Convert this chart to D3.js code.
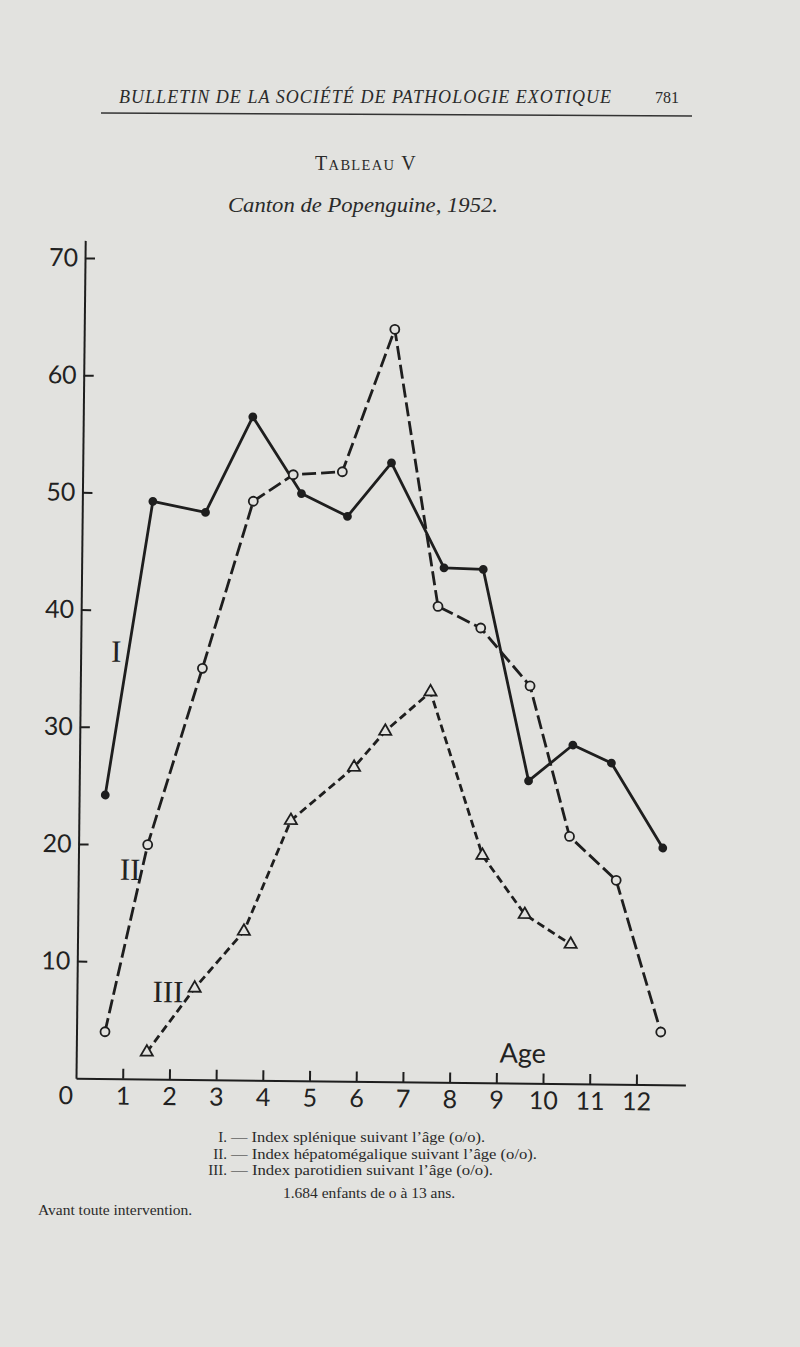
<!DOCTYPE html>
<html>
<head>
<meta charset="utf-8">
<style>
  body { margin: 0; background: #e2e2df; }
  svg { display: block; }
  .axis text { font-family: Lato, "Open Sans", sans-serif; font-size: 25px; fill: #222; }
  .axis path, .axis line { stroke: #1e1e1e; stroke-width: 2; }
</style>
</head>
<body>
<svg width="800" height="1347"></svg>
<script src="https://cdn.jsdelivr.net/npm/d3@7"></script>
<script>

// ages (years) and index values (%)
var ageTicks = [1, 2, 3, 4, 5, 6, 7, 8, 9, 10, 11, 12];
var valueTicks = [10, 20, 30, 40, 50, 60, 70];

// I. index splenique
var spleenAge   = [0.56, 1.51, 2.64, 3.63, 4.69, 5.68, 6.61, 7.76, 8.60, 9.62, 10.56, 11.39, 12.51];
var spleenIndex = [24.2, 49.3, 48.4, 56.6, 50.1, 48.2, 52.8, 43.9, 43.8, 25.8, 28.9, 27.4, 20.2];

// II. index hepatomegalique
var liverAge   = [0.61, 1.48, 2.61, 3.66, 4.51, 5.56, 6.65, 7.64, 8.56, 9.63, 10.51, 11.52, 12.51];
var liverIndex = [4.0, 20.0, 35.1, 49.4, 51.7, 52.0, 64.2, 40.6, 38.8, 33.9, 21.1, 17.4, 4.5];

// III. index parotidien
var parotidAge   = [1.51, 2.52, 3.56, 4.54, 5.88, 6.54, 7.50, 8.65, 9.57, 10.56];
var parotidIndex = [2.3, 7.8, 12.7, 22.2, 26.8, 29.9, 33.3, 19.4, 14.4, 11.9];

var legendNums = ["I.", "II.", "III."];
var legendText = [
  "— Index splénique suivant l’âge (o/o).",
  "— Index hépatomégalique suivant l’âge (o/o).",
  "— Index parotidien suivant l’âge (o/o)."
];
var legendWidths = [254, 306, 262];

var paper = "#e2e2df",
    ink = "#1e1e1e";

var svg = d3.select("svg");

svg.append("rect").attr("width", 800).attr("height", 1347).attr("fill", paper);

// page header
svg.append("text")
  .attr("x", 119).attr("y", 103)
  .attr("textLength", 492).attr("lengthAdjust", "spacing")
  .style("font-family", "'Liberation Serif', serif").style("font-style", "italic")
  .style("font-size", "18px").style("fill", "#2a2a2a")
  .text("BULLETIN DE LA SOCIÉTÉ DE PATHOLOGIE EXOTIQUE");

svg.append("text")
  .attr("x", 655).attr("y", 103)
  .style("font-family", "'Liberation Serif', serif").style("font-size", "16px").style("fill", "#2a2a2a")
  .text("781");

svg.append("line")
  .attr("x1", 101).attr("y1", 113).attr("x2", 692).attr("y2", 116)
  .attr("stroke", "#333").attr("stroke-width", 1.5);

var tab = svg.append("text")
  .attr("x", 366).attr("y", 170).attr("text-anchor", "middle")
  .style("font-family", "'Liberation Serif', serif").style("fill", "#2a2a2a")
  .style("letter-spacing", "1.3px");
tab.append("tspan").style("font-size", "20px").text("T");
tab.append("tspan").style("font-size", "14.5px").text("ABLEAU");
tab.append("tspan").style("font-size", "20px").text(" V");

svg.append("text")
  .attr("x", 228).attr("y", 212)
  .attr("textLength", 270).attr("lengthAdjust", "spacingAndGlyphs")
  .style("font-family", "'Liberation Serif', serif").style("font-style", "italic")
  .style("font-size", "22px").style("fill", "#2a2a2a")
  .text("Canton de Popenguine, 1952.");

// chart: the plate is scanned a little askew, so the frame is turned slightly
var x = d3.scaleLinear().domain([0, 13.05]).range([76, 76 + 13.05 * 46.7]);
var y = d3.scaleLinear().domain([0, 71.5]).range([1078.3, 1078.3 - 71.5 * 11.72]);

var chart = svg.append("g")
  .attr("transform", "rotate(0.63," + x(0) + "," + y(0) + ")");

chart.append("g")
  .attr("class", "axis")
  .attr("transform", "translate(0," + y(0) + ")")
  .call(d3.axisBottom(x).tickValues(ageTicks).tickSize(-10).tickSizeOuter(0).tickPadding(8));

chart.append("g")
  .attr("class", "axis")
  .attr("transform", "translate(" + x(0) + ",0)")
  .call(d3.axisLeft(y).tickValues(valueTicks).tickSize(-10).tickSizeOuter(0).tickPadding(7));

chart.selectAll(".axis text").attr("stroke", "none");

chart.append("text")
  .attr("x", x(0) - 10).attr("y", y(0) + 26)
  .attr("text-anchor", "middle")
  .style("font-family", "Lato, 'Open Sans', sans-serif").style("font-size", "25px").style("fill", "#222")
  .text("0");

chart.append("text")
  .attr("x", x(9.56)).attr("y", y(1.75))
  .attr("text-anchor", "middle")
  .style("font-family", "Lato, 'Open Sans', sans-serif").style("font-size", "27px").style("fill", "#222")
  .text("Age");

var line = d3.line()
  .x(function(d) { return x(d[0]); })
  .y(function(d) { return y(d[1]); });

var spleen = d3.zip(spleenAge, spleenIndex),
    liver = d3.zip(liverAge, liverIndex),
    parotid = d3.zip(parotidAge, parotidIndex);

chart.append("path").datum(spleen)
  .attr("d", line).attr("fill", "none")
  .attr("stroke", ink).attr("stroke-width", 2.8).attr("stroke-linejoin", "round");

chart.append("path").datum(liver)
  .attr("d", line).attr("fill", "none")
  .attr("stroke", ink).attr("stroke-width", 2.8)
  .attr("stroke-dasharray", "14,5");

chart.append("path").datum(parotid)
  .attr("d", line).attr("fill", "none")
  .attr("stroke", ink).attr("stroke-width", 2.8)
  .attr("stroke-dasharray", "8,4.5");

chart.selectAll(".dot-spleen")
  .data(spleen)
  .enter().append("circle")
  .attr("class", "dot-spleen")
  .attr("cx", function(d) { return x(d[0]); })
  .attr("cy", function(d) { return y(d[1]); })
  .attr("r", 4.4)
  .attr("fill", ink);

chart.selectAll(".dot-liver")
  .data(liver)
  .enter().append("circle")
  .attr("class", "dot-liver")
  .attr("cx", function(d) { return x(d[0]); })
  .attr("cy", function(d) { return y(d[1]); })
  .attr("r", 4.5)
  .attr("fill", paper).attr("stroke", ink).attr("stroke-width", 1.8);

var tri = d3.symbol().type(d3.symbolTriangle).size(64);

chart.selectAll(".dot-parotid")
  .data(parotid)
  .enter().append("path")
  .attr("class", "dot-parotid")
  .attr("d", tri)
  .attr("transform", function(d) { return "translate(" + x(d[0]) + "," + y(d[1]) + ")"; })
  .attr("fill", paper).attr("stroke", ink).attr("stroke-width", 1.8);

// roman numeral labels next to the curves
var curveLabels = [["I", 0.76, 36.5], ["II", 1.11, 17.9], ["III", 1.95, 7.5]];

chart.selectAll(".curve-label")
  .data(curveLabels)
  .enter().append("text")
  .attr("class", "curve-label")
  .attr("x", function(d) { return x(d[1]); })
  .attr("y", function(d) { return y(d[2]); })
  .attr("dy", "0.35em")
  .attr("text-anchor", "middle")
  .style("font-family", "'Liberation Serif', serif").style("font-size", "31px").style("fill", "#222")
  .text(function(d) { return d[0]; });

// legend under the plate (tightly set, as in print)
var legend = svg.append("g")
  .style("font-family", "'Liberation Serif', serif").style("font-size", "14px").style("fill", "#2a2a2a");

legend.selectAll(".num")
  .data(legendNums)
  .enter().append("text")
  .attr("class", "num")
  .attr("x", 227)
  .attr("y", function(d, i) { return 1142 + i * 16.5; })
  .attr("text-anchor", "end")
  .style("font-size", "15px")
  .text(function(d) { return d; });

legend.selectAll(".desc")
  .data(legendText)
  .enter().append("text")
  .attr("class", "desc")
  .attr("x", 231)
  .attr("y", function(d, i) { return 1142 + i * 16.5; })
  .attr("textLength", function(d, i) { return legendWidths[i]; })
  .attr("lengthAdjust", "spacingAndGlyphs")
  .text(function(d) { return d; });

legend.append("text").attr("x", 369).attr("y", 1198).attr("text-anchor", "middle")
  .style("font-size", "15.5px")
  .text("1.684 enfants de o à 13 ans.");
legend.append("text").attr("x", 38).attr("y", 1215)
  .style("font-size", "15.5px")
  .text("Avant toute intervention.");

</script>
</body>
</html>
